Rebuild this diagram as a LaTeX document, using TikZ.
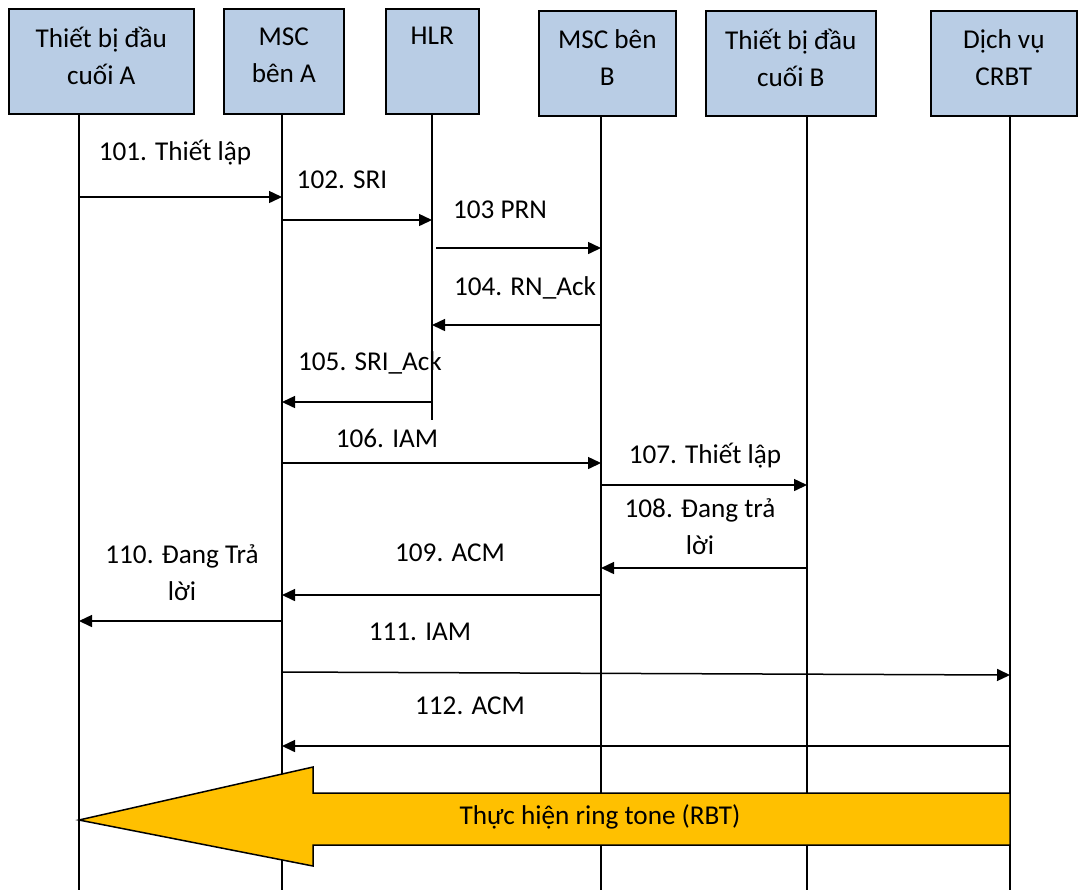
\documentclass[tikz,border=0pt]{standalone}
\usepackage{fontspec}
\setmainfont{Carlito}
\usetikzlibrary{arrows.meta}
\definecolor{boxblue}{HTML}{B9CDE5}
\definecolor{ringgold}{HTML}{FFC000}
\tikzset{
  entity/.style={draw=black, line width=0.8pt, fill=boxblue, anchor=north west, inner sep=0pt},
  entitytext/.style={anchor=north, align=center, inner sep=0pt},
  msg/.style={line width=0.75pt, -{Triangle[length=6.5pt,width=6pt]}},
  lifeline/.style={line width=0.75pt}
}
\begin{document}
\begin{tikzpicture}[x=0.5pt,y=-0.5pt,font=\fontsize{13.6}{18.5}\selectfont]
\useasboundingbox (0,0) rectangle (1079,890);
% entities
\node[entity, minimum width=92.5pt, minimum height=52.5pt] (tbA) at (8,8) {};
\node[entity, minimum width=60pt, minimum height=52.5pt] (mscA) at (223,8) {};
\node[entity, minimum width=46.5pt, minimum height=52.5pt] (hlr) at (385,8) {};
\node[entity, minimum width=68.5pt, minimum height=52.5pt] (mscB) at (538,10) {};
\node[entity, minimum width=85pt, minimum height=52.5pt] (tbB) at (705,10) {};
\node[entity, minimum width=73pt, minimum height=52.5pt] (crbt) at (930,10) {};
\node[entitytext] (tbAtxt) at ([yshift=-9.5pt]tbA.north) {Thiết bị đầu\\cuối A};
\node[entitytext] (mscAtxt) at ([yshift=-9.5pt]mscA.north) {MSC\\bên A};
\node[entitytext] (hlrtxt) at ([yshift=-9.5pt]hlr.north) {HLR};
\node[entitytext] (mscBtxt) at ([yshift=-9.5pt]mscB.north) {MSC bên\\B};
\node[entitytext] (tbBtxt) at ([yshift=-9.5pt]tbB.north) {Thiết bị đầu\\cuối B};
\node[entitytext] (crbttxt) at ([yshift=-9.5pt]crbt.north) {Dịch vụ\\CRBT};
% lifelines
\coordinate (lA) at (79,113);
\coordinate (lMA) at (282,113);
\coordinate (lH) at (432,113);
\coordinate (lMB) at (601,115);
\coordinate (lB) at (807,115);
\coordinate (lC) at (1010,115);
\draw[lifeline] (lA) -- (lA |- 0,890);
\draw[lifeline] (lMA) -- (lMA |- 0,890);
\draw[lifeline] (lH) -- (lH |- 0,420);
\draw[lifeline] (lMB) -- (lMB |- 0,890);
\draw[lifeline] (lB) -- (lB |- 0,890);
\draw[lifeline] (lC) -- (lC |- 0,890);
% messages
\draw[msg] (lA |- 0,197) -- (lMA |- 0,197);
\draw[msg] (lMA |- 0,220) -- (lH |- 0,220);
\draw[msg] ([xshift=2pt]lH |- 0,248) -- (lMB |- 0,248);
\draw[msg] (lMB |- 0,325) -- (lH |- 0,325);
\draw[msg] (lH |- 0,402) -- (lMA |- 0,402);
\draw[msg] (lMA |- 0,463) -- (lMB |- 0,463);
\draw[msg] (lMB |- 0,485) -- (lB |- 0,485);
\draw[msg] (lB |- 0,568) -- (lMB |- 0,568);
\draw[msg] (lMB |- 0,595) -- (lMA |- 0,595);
\draw[msg] (lMA |- 0,621) -- (lA |- 0,621);
\draw[msg] (lMA |- 0,672) -- (lC |- 0,675);
\draw[msg] (lC |- 0,746) -- (lMA |- 0,746);
\node (m101) at (175,153) {101. Thiết lập};
\node (m102) at (342,180) {102. SRI};
\node (m103) at (500,210) {103 PRN};
\node (m104) at (525,288) {104. RN\_Ack};
\node (m105) at (370,363) {105. SRI\_Ack};
\node (m106) at (387,438) {106. IAM};
\node (m107) at (705,456) {107. Thiết lập};
\node[align=center] (m108) at (700,527) {108. Đang trả\\lời};
\node (m109) at (450,553) {109. ACM};
\node[align=center] (m110) at (182,573) {110. Đang Trả\\lời};
\node (m111) at (420,632) {111. IAM};
\node (m112) at (470,706) {112. ACM};
% ring back tone
\draw[line width=0.75pt, fill=ringgold] (lA |- 0,820) -- (313,767) -- (313,793) -- (lC |- 0,793)
  -- (lC |- 0,845) -- (313,845) -- (313,866) -- cycle;
\node (rbt) at (600,817) {Thực hiện ring tone (RBT)};
\end{tikzpicture}
\end{document}
